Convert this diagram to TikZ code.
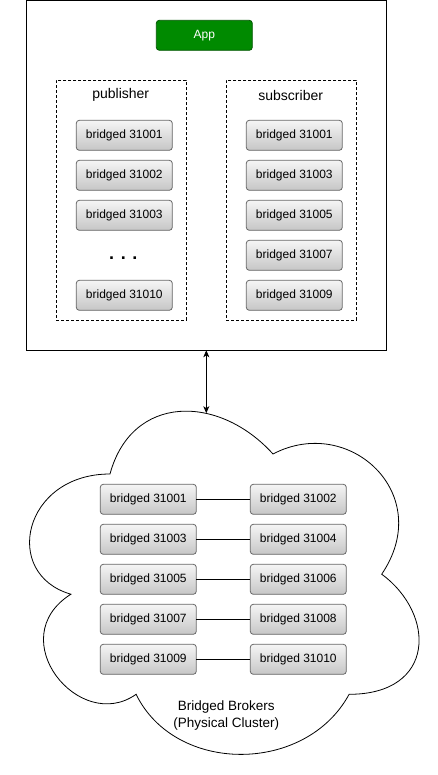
\documentclass[tikz,border=0pt]{standalone}
\usepackage{fontspec}
\setmainfont{Liberation Sans}
\usetikzlibrary{arrows.meta}
\definecolor{appgreen}{HTML}{008A00}
\definecolor{appborder}{HTML}{005700}
\definecolor{boxborder}{HTML}{666666}
\definecolor{boxtop}{HTML}{F5F5F5}
\definecolor{boxbot}{HTML}{C6C6C6}
\tikzset{
  brokerbox/.style={draw=boxborder, line width=0.8pt, rounded corners=3pt,
    top color=boxtop, bottom color=boxbot, minimum width=96pt, minimum height=30pt,
    inner sep=0pt, outer sep=0pt, font=\fontsize{12}{14}\selectfont},
  groupbox/.style={draw, dashed, dash pattern=on 3pt off 2pt, line width=0.8pt,
    minimum width=130pt, minimum height=240pt, inner sep=0pt, outer sep=0pt},
  grouptitle/.style={font=\fontsize{14}{16}\selectfont, inner sep=0pt},
  link/.style={draw, line width=0.8pt},
}
\begin{document}
\begin{tikzpicture}[x=1pt,y=-1pt]
\useasboundingbox (0,0) rectangle (437,775);
% outer application box
\node[draw, line width=1.2pt, minimum width=360pt, minimum height=349.5pt, inner sep=0pt, outer sep=0pt] (outer) at (206.3,175.55) {};
% App
\node[draw=appborder, fill=appgreen, rounded corners=3pt, line width=0.8pt,
  minimum width=96pt, minimum height=30pt, inner sep=0pt, outer sep=0pt,
  text=white, font=\fontsize{12}{14}\selectfont] (app) at (204.3,35.3) {App};
% group boxes
\node[groupbox] (pubgrp) at (121.3,200.3) {};
\node[groupbox] (subgrp) at (291.3,200.3) {};
\node[grouptitle] (pubtitle) at (120.7,95.3) {publisher};
\node[grouptitle] (subtitle) at (290.7,95.3) {subscriber};
% publisher brokers
\node[brokerbox] (p1) at (124.3,135.3) {bridged 31001};
\node[brokerbox] (p2) at (124.3,175.3) {bridged 31002};
\node[brokerbox] (p3) at (124.3,215.3) {bridged 31003};
\node[font=\fontsize{18}{18}\selectfont\bfseries, inner sep=0pt] (pdots) at (123.3,257.8) {. . .};
\node[brokerbox] (p10) at (124.3,295.3) {bridged 31010};
% subscriber brokers
\node[brokerbox] (s1) at (294.3,135.3) {bridged 31001};
\node[brokerbox] (s3) at (294.3,175.3) {bridged 31003};
\node[brokerbox] (s5) at (294.3,215.3) {bridged 31005};
\node[brokerbox] (s7) at (294.3,255.3) {bridged 31007};
\node[brokerbox] (s9) at (294.3,295.3) {bridged 31009};
% cloud
\draw[line width=0.8pt] (110.0,474.0)
  .. controls (23.0,474.0) and (1.3,574.2) .. (70.9,594.2)
  .. controls (1.3,638.2) and (79.5,734.4) .. (136.1,694.3)
  .. controls (175.2,774.4) and (305.6,774.4) .. (349.1,694.3)
  .. controls (436.0,694.3) and (436.0,614.2) .. (381.7,574.2)
  .. controls (436.0,494.1) and (349.1,414.0) .. (273.0,454.0)
  .. controls (218.7,393.9) and (131.7,393.9) .. (110.0,474.0) -- cycle;
\coordinate (cloudtop) at (206.3,413.2);
\node[align=center, font=\fontsize{13.5}{17.3}\selectfont, inner sep=0pt] (cloudlabel) at (226.3,715.6) {Bridged Brokers\\(Physical Cluster)};
% cloud brokers
\node[brokerbox] (c1) at (148.3,499.3) {bridged 31001};
\node[brokerbox] (c2) at (298.3,499.3) {bridged 31002};
\node[brokerbox] (c3) at (148.3,539.3) {bridged 31003};
\node[brokerbox] (c4) at (298.3,539.3) {bridged 31004};
\node[brokerbox] (c5) at (148.3,579.3) {bridged 31005};
\node[brokerbox] (c6) at (298.3,579.3) {bridged 31006};
\node[brokerbox] (c7) at (148.3,619.3) {bridged 31007};
\node[brokerbox] (c8) at (298.3,619.3) {bridged 31008};
\node[brokerbox] (c9) at (148.3,659.3) {bridged 31009};
\node[brokerbox] (c10) at (298.3,659.3) {bridged 31010};
\draw[link] (c1) -- (c2);
\draw[link] (c3) -- (c4);
\draw[link] (c5) -- (c6);
\draw[link] (c7) -- (c8);
\draw[link] (c9) -- (c10);
% connection
\draw[line width=0.8pt, {Stealth[length=7pt,width=6pt,inset=2pt]}-{Stealth[length=7pt,width=6pt,inset=2pt]}] (outer.south) -- (cloudtop);
\end{tikzpicture}
\end{document}
